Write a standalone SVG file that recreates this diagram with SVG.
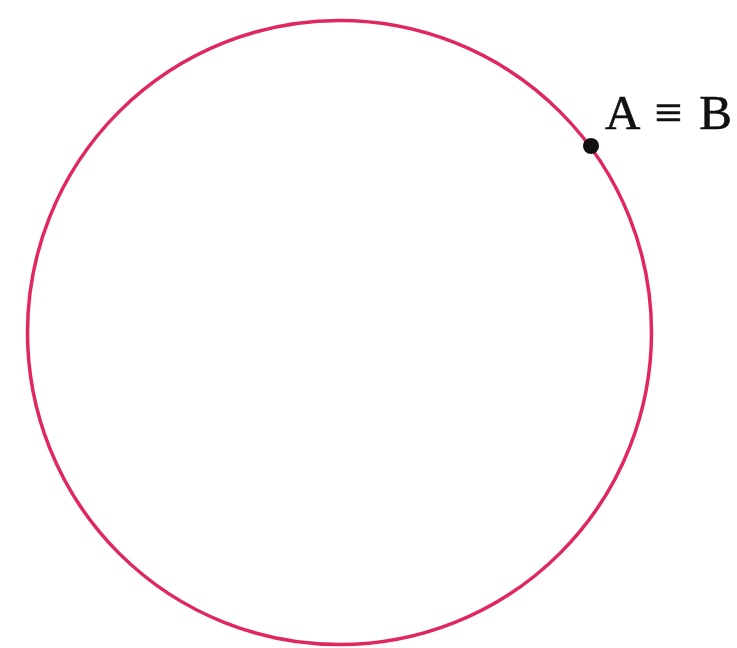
<svg xmlns="http://www.w3.org/2000/svg" width="737" height="648" viewBox="0 0 737 648">
<style>
.circ{fill:none;stroke:#e0285f;stroke-width:3.5}
.lbl{font-family:"Liberation Serif","DejaVu Serif",serif;font-size:49px;fill:#111;stroke:#111;stroke-width:0.6}
</style>
<rect width="737" height="648" fill="#fff"/>
<g id="circle"><circle class="circ" cx="339.5" cy="332.5" r="312"/></g>
<g id="point"><circle cx="591" cy="146" r="8" fill="#111"/></g>
<g id="label"><text class="lbl" x="605" y="129" textLength="127" lengthAdjust="spacing">A ≡ B</text></g>
</svg>
